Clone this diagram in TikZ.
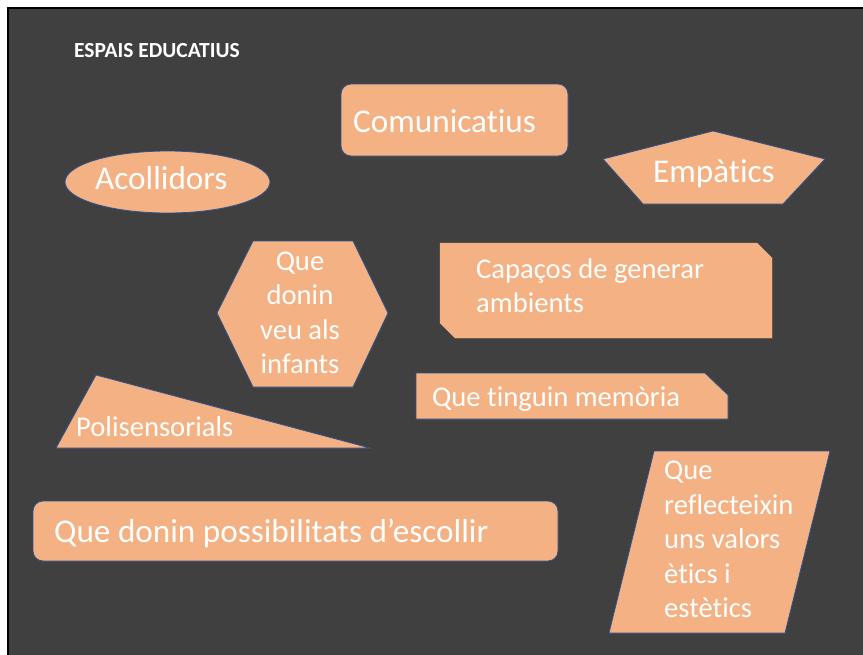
\documentclass[tikz,border=0pt]{standalone}
\usepackage{fontspec}
\setmainfont{Carlito}[Ligatures={NoCommon}]
\definecolor{bgc}{HTML}{404040}
\definecolor{shapec}{HTML}{F4B183}
\definecolor{edgec}{HTML}{2F528F}
\begin{document}
\begin{tikzpicture}[x=1pt,y=-1pt,
  shp/.style={fill=shapec,draw=edgec,line width=0.8pt},
  shpnb/.style={fill=shapec,draw=shapec,line width=0.3pt},
  big/.style={text=white,inner sep=0pt,font=\fontsize{33.2}{40}\selectfont},
  mid/.style={text=white,inner sep=0pt,font=\fontsize{28.6}{34.5}\selectfont},
]
\useasboundingbox (0,0) rectangle (863,654);
\fill[white] (0,0) rectangle (863,654);
\draw[fill=bgc,draw=black,line width=2pt] (8,8) rectangle (880,670);

\node[anchor=base west,text=white,inner sep=0pt,font=\bfseries\fontsize{21.5}{25}\selectfont] (title) at (74,57) {ESPAIS EDUCATIUS};

% Comunicatius
\draw[shp,rounded corners=10pt] (341,84) rectangle (568,156);
\node[big,anchor=base west] (comu) at (353,132) {Comunicatius};

% Acollidors
\draw[shp] (167.5,182) ellipse [x radius=102.5pt, y radius=31pt];
\node[big,anchor=base west] (acol) at (95,189) {Acollidors};

% Empatics
\draw[shp] (713,131) -- (825,159) -- (783,204) -- (643,204) -- (603,159) -- cycle;
\node[big,anchor=base west] (empa) at (653,182) {Empàtics};

% Hexagon
\draw[shp] (253,241) -- (353,241) -- (388,313) -- (353,387) -- (253,387) -- (217,313) -- cycle;
\node[mid,anchor=base,align=center] (veu) at (300,373.5) {Que\\donin\\veu als\\infants};

% Capacos
\draw[shpnb] (440,243) -- (757,243) -- (772,258) -- (772,338) -- (455,338) -- (440,323) -- cycle;
\node[mid,anchor=base west,align=left] (amb) at (476,312.5) {Capaços de generar\\ambients};

% Memoria
\draw[shp] (416,373) -- (705,373) -- (728,395) -- (728,419) -- (416,419) -- cycle;
\node[mid,anchor=base west] (mem) at (432,406) {Que tinguin memòria};

% Polisensorials
\draw[shp] (96,375) -- (370,448) -- (56,448) -- cycle;
\node[mid,anchor=base west] (poli) at (76,436) {Polisensorials};

% Possibilitats
\draw[shp,rounded corners=10pt] (33,501) rectangle (558,561);
\node[big,anchor=base west] (poss) at (54,542) {Que donin possibilitats d’escollir};

% Parallelogram
\draw[shp] (654,451) -- (830,451) -- (785,633) -- (609,633) -- cycle;
\node[mid,anchor=base west,align=left] (valors) at (664,617.5) {Que\\reflecteixin\\uns valors\\ètics i\\estètics};
\end{tikzpicture}
\end{document}
